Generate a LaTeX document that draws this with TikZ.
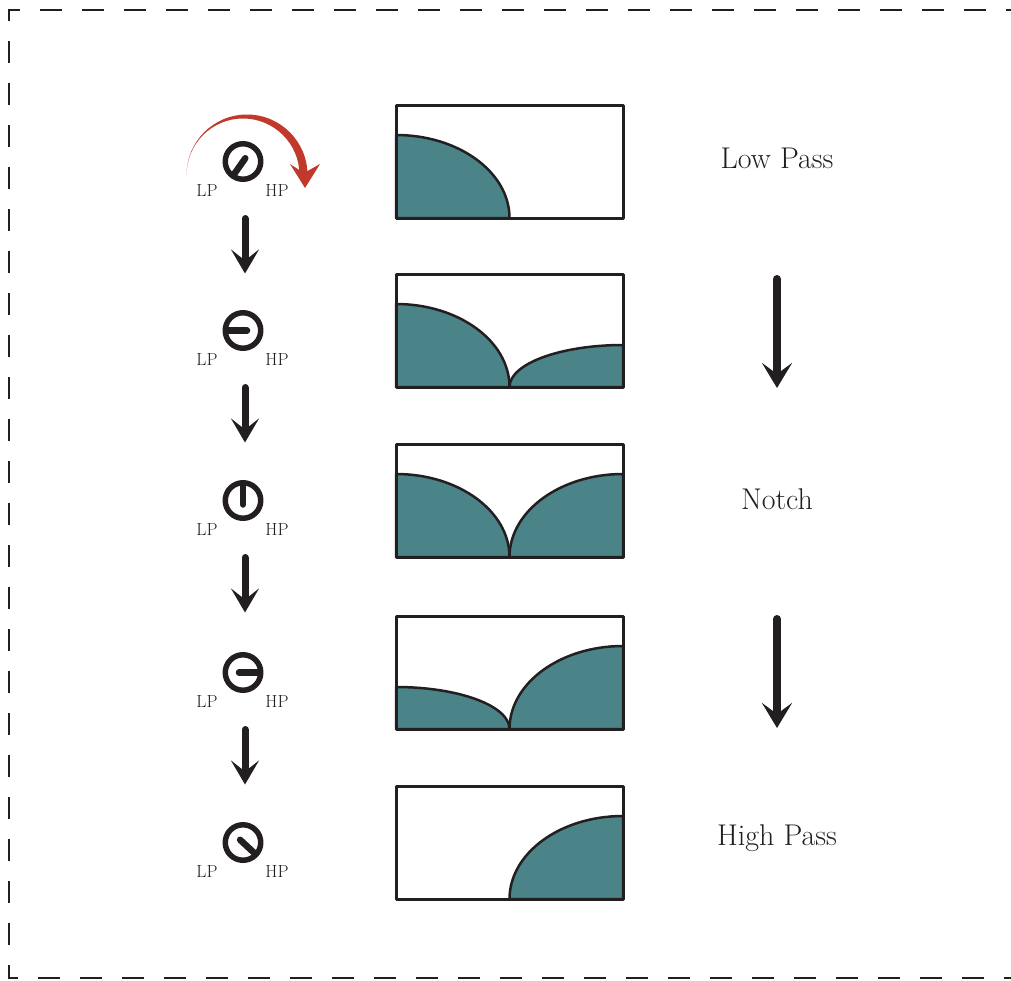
\documentclass[tikz,border=0pt]{standalone}
\usetikzlibrary{calc,arrows.meta}
\definecolor{ink}{RGB}{35,31,32}
\definecolor{lobefill}{RGB}{74,131,136}
\definecolor{sweepred}{RGB}{192,57,43}

\begin{document}
\begin{tikzpicture}[x=1pt, y=-1pt, line join=round,
    knob/.style={circle, draw=ink, line width=5.5pt, minimum size=35.5pt, inner sep=0pt},
    pointer/.style={ink, line width=6.5pt, line cap=round},
    knoblabel/.style={text=ink, font=\fontsize{17.5}{20}\selectfont, inner sep=0pt},
    box/.style={draw=ink, line width=3pt, minimum width=227pt, minimum height=113pt, inner sep=0pt},
    lobe/.style={fill=lobefill, draw=ink, line width=2.5pt},
    flow/.style={ink, line width=7pt, line cap=round, -{Stealth[length=24pt, width=28pt, inset=11pt]}},
    bigflow/.style={ink, line width=8pt, line cap=round, -{Stealth[length=25pt, width=30pt, inset=11pt]}},
    mode/.style={text=ink, font=\fontsize{30}{36}\selectfont},
    border/.style={ink, line width=2.5pt, dash pattern=on 22pt off 20pt, dash phase=30pt, line join=miter}]
    \useasboundingbox (0,0) rectangle (1011,980);

    % dashed frame (right edge lies outside the page)
    \draw[border] (1040,10) -- (9,10) -- (9,978) -- (1040,978);

    % knobs, from LP to HP
    \node[knob] (k1) at (243,161.5) {};
    \node[knob] (k2) at (243,330.5) {};
    \node[knob] (k3) at (243,500.5) {};
    \node[knob] (k4) at (243,672.5) {};
    \node[knob] (k5) at (243,842.5) {};
    \draw[pointer] ($(k1)+(305:4)$) -- ($(k1)+(125:16)$);
    \draw[pointer] ($(k2)+(0:4)$) -- ($(k2)+(180:16)$);
    \draw[pointer] ($(k3)+(90:4)$) -- ($(k3)+(270:16)$);
    \draw[pointer] ($(k4)+(180:4)$) -- ($(k4)+(0:16)$);
    \draw[pointer] ($(k5)+(223:4)$) -- ($(k5)+(43:16)$);

    % LP / HP marks under every knob
    \foreach \k in {1,...,5} {
        \node[knoblabel] (lp\k) at ($(k\k)+(-36,29)$) {LP};
        \node[knoblabel] (hp\k) at ($(k\k)+(34,29)$) {HP};
    }

    % red sweep over the first knob (tapered band)
    \coordinate (sc) at (247,175);
    \fill[sweepred] ($(sc)+(180:60.5)$) arc[start angle=180, end angle=360, radius=60.5]
        -- ($(sc)+(-4,0)+(0:56.5)$) arc[start angle=360, end angle=180, radius=56.5] -- cycle;
    \fill[sweepred] (290,164) -- (304,173) -- (320,164) -- (305,188) -- cycle;

    % arrows between the knobs
    \foreach \k in {1,...,4} {
        \coordinate (s\k) at ($(k\k)+(2,57)$);
        \coordinate (e\k) at ($(k\k)+(2,112)$);
        \draw[flow] (s\k) -- (e\k);
    }

    % responses: low lobe (left) and high lobe (right)
    \filldraw[lobe] (396,218) -- (396,135) arc[start angle=270, end angle=360, x radius=113.5, y radius=83] -- cycle;

    \filldraw[lobe] (396,387) -- (396,304) arc[start angle=270, end angle=360, x radius=113.5, y radius=83] -- cycle;
    \filldraw[lobe] (509.5,387) arc[start angle=180, end angle=270, x radius=113.5, y radius=42] -- (623,387) -- cycle;

    \filldraw[lobe] (396,557) -- (396,474) arc[start angle=270, end angle=360, x radius=113.5, y radius=83] -- cycle;
    \filldraw[lobe] (509.5,557) arc[start angle=180, end angle=270, x radius=113.5, y radius=83] -- (623,557) -- cycle;

    \filldraw[lobe] (396,729) -- (396,687) arc[start angle=270, end angle=360, x radius=113.5, y radius=42] -- cycle;
    \filldraw[lobe] (509.5,729) arc[start angle=180, end angle=270, x radius=113.5, y radius=83] -- (623,729) -- cycle;

    \filldraw[lobe] (509.5,899) arc[start angle=180, end angle=270, x radius=113.5, y radius=83] -- (623,899) -- cycle;

    % frames of the responses
    \node[box] (b1) at (509.5,161.5) {};
    \node[box] (b2) at (509.5,330.5) {};
    \node[box] (b3) at (509.5,500.5) {};
    \node[box] (b4) at (509.5,672.5) {};
    \node[box] (b5) at (509.5,842.5) {};

    % filter modes
    \node[mode] (low) at (777,158) {Low Pass};
    \node[mode] (notch) at (777,499) {Notch};
    \node[mode] (high) at (777,838) {High Pass};
    \coordinate (d1s) at (777,279);
    \coordinate (d1e) at (777,388);
    \coordinate (d2s) at (777,619);
    \coordinate (d2e) at (777,728);
    \draw[bigflow] (d1s) -- (d1e);
    \draw[bigflow] (d2s) -- (d2e);
\end{tikzpicture}
\end{document}
